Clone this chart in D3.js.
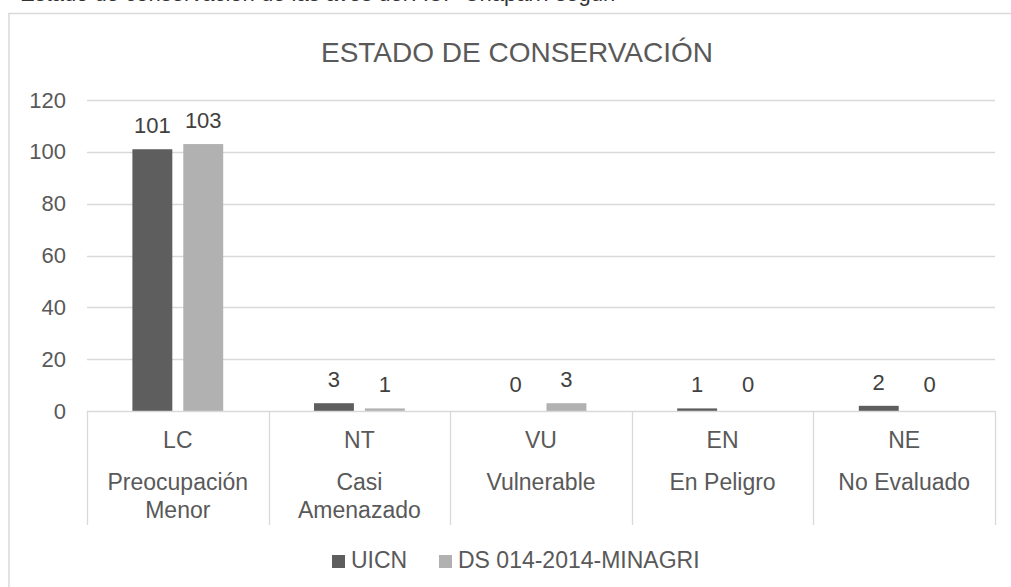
<!DOCTYPE html>
<html>
<head>
<meta charset="utf-8">
<script src="https://cdn.jsdelivr.net/npm/d3@7"></script>
<style>
  body { margin:0; background:#fff; }
  svg { display:block; font-family: Arial, "Liberation Sans", sans-serif; }
</style>
</head>
<body>
<svg id="chart" width="1011" height="587"></svg>
<script>
// datos del gráfico
const CODES  = ['LC', 'NT', 'VU', 'EN', 'NE'];
const NAMES  = [['Preocupación', 'Menor'], ['Casi', 'Amenazado'], ['Vulnerable'], ['En Peligro'], ['No Evaluado']];
const SERIES = ['UICN', 'DS 014-2014-MINAGRI'];
const UICN   = [101, 3, 0, 1, 2];
const DS     = [103, 1, 3, 0, 0];
const Y_TICKS = [0, 20, 40, 60, 80, 100, 120];
const COLORS = ['#5e5e5e', '#b1b1b1'];

const W = 1011, H = 587;
const TXT = '#595959', GRID = '#d9d9d9';
const svg = d3.select('#chart');

// título del documento, cortado arriba como en la imagen
svg.append('text').attr('x', 20).attr('y', 1)
  .attr('font-size', 22).attr('fill', '#333')
  .text('Estado de conservación de las aves del ACP Chaparrí según');

// borde del gráfico
svg.append('rect').attr('x', 9).attr('y', 13.5).attr('width', W).attr('height', H)
  .attr('fill', 'none').attr('stroke', GRID).attr('stroke-width', 1.5);

svg.append('text').attr('x', 517).attr('y', 62).attr('text-anchor', 'middle')
  .attr('font-size', 28).attr('fill', TXT).text('ESTADO DE CONSERVACIÓN');

const x0 = d3.scaleBand().domain(CODES).range([87, 995]).padding(0);
const x1 = d3.scaleBand().domain(SERIES).range([0, x0.bandwidth()])
  .paddingInner(0.2157).paddingOuter(0.892);
const y = d3.scaleLinear().domain([0, 120]).range([411, 100]);

// rejilla
svg.append('g').selectAll('line').data(Y_TICKS.slice(1)).join('line')
  .attr('x1', 87).attr('x2', 995)
  .attr('y1', d => Math.round(y(d)) + 0.5).attr('y2', d => Math.round(y(d)) + 0.5)
  .attr('stroke', GRID).attr('stroke-width', 1.3);

// eje y
const yAxis = svg.append('g').attr('transform', 'translate(66,0)')
  .call(d3.axisLeft(y).tickValues(Y_TICKS).tickSize(0).tickPadding(0));
yAxis.select('.domain').remove();
yAxis.selectAll('text').attr('font-size', 22).attr('fill', TXT)
  .attr('font-family', 'Arial, "Liberation Sans", sans-serif');

// barras
const rows = CODES.map((c, i) => ({ code: c, vals: [UICN[i], DS[i]] }));
const grp = svg.append('g').selectAll('g').data(rows).join('g')
  .attr('transform', d => `translate(${x0(d.code)},0)`);
grp.selectAll('rect').data(d => d.vals.map((v, j) => ({ s: SERIES[j], v, j }))).join('rect')
  .attr('x', d => x1(d.s)).attr('width', x1.bandwidth())
  .attr('y', d => y(d.v)).attr('height', d => y(0) - y(d.v))
  .attr('fill', d => COLORS[d.j]);
grp.selectAll('text.lbl').data(d => d.vals.map((v, j) => ({ s: SERIES[j], v, j }))).join('text')
  .attr('class', 'lbl')
  .attr('x', d => x1(d.s) + x1.bandwidth() / 2)
  .attr('y', d => Math.min(y(d.v) - 16, 392))
  .attr('text-anchor', 'middle').attr('font-size', 22).attr('fill', '#404040')
  .text(d => d.v);

// eje x con separadores
const axisG = svg.append('g');
axisG.append('line').attr('x1', 87).attr('x2', 995).attr('y1', 411.5).attr('y2', 411.5)
  .attr('stroke', GRID).attr('stroke-width', 1.3);
axisG.selectAll('line.sep').data(CODES.map(c => x0(c)).concat([x0.range()[1]])).join('line')
  .attr('class', 'sep')
  .attr('x1', d => Math.round(d) + 0.5).attr('x2', d => Math.round(d) + 0.5)
  .attr('y1', 411).attr('y2', 525).attr('stroke', GRID).attr('stroke-width', 1.3);
CODES.forEach((c, i) => {
  const cx = x0(c) + x0.bandwidth() / 2;
  axisG.append('text').attr('x', cx).attr('y', 448).attr('text-anchor', 'middle')
    .attr('font-size', 23).attr('fill', TXT).text(c);
  NAMES[i].forEach((n, k) => {
    axisG.append('text').attr('x', cx).attr('y', 490 + k * 28).attr('text-anchor', 'middle')
      .attr('font-size', 23).attr('fill', TXT).text(n);
  });
});

// leyenda
const leg = svg.append('g');
const legX = [332, 439];
SERIES.forEach((s, i) => {
  leg.append('rect').attr('x', legX[i]).attr('y', 555).attr('width', 13).attr('height', 13)
    .attr('fill', COLORS[i]);
  leg.append('text').attr('x', legX[i] + 19).attr('y', 568).attr('font-size', 23)
    .attr('fill', TXT).text(s);
});
</script>
</body>
</html>
